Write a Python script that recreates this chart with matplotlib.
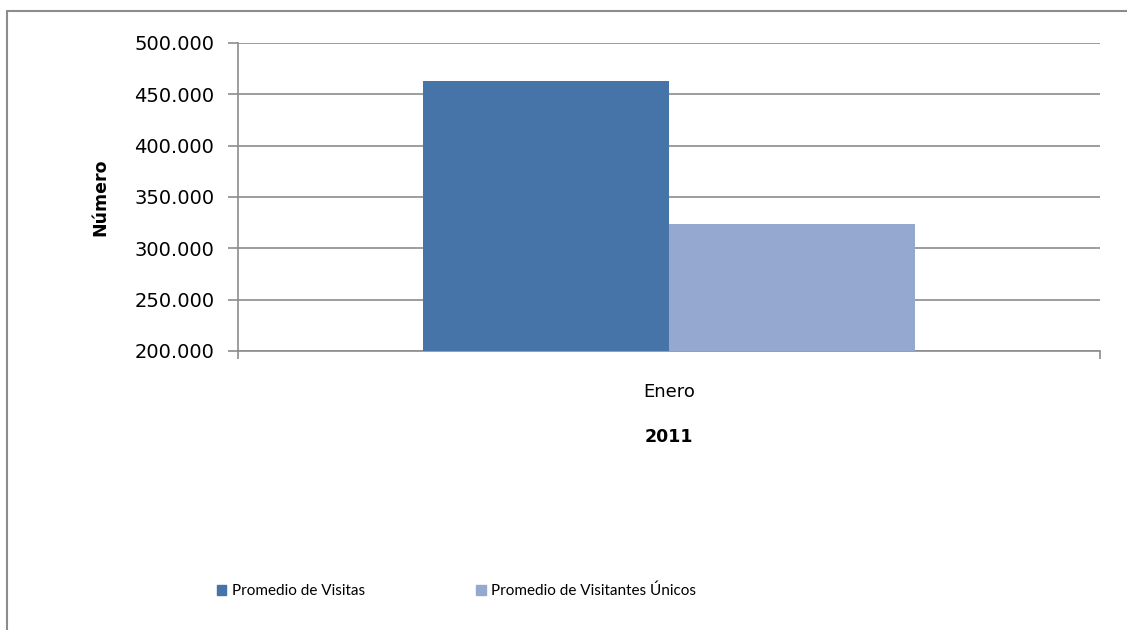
import matplotlib.pyplot as plt
from matplotlib.patches import Rectangle, Patch
import numpy as np

plt.rcParams['font.family'] = ['DejaVu Sans']

categories = ["Enero"]
series_names = ["Promedio de Visitas", "Promedio de Visitantes Únicos"]
visitas = [463000]
visitantes_unicos = [323700]
colors = ["#4674A8", "#95A9D0"]
grid_col = "#8c8c8c"

fig = plt.figure(figsize=(11.27, 6.3), dpi=100)
ax = fig.add_axes([238/1127, 1-351/630, (1100-238)/1127, (351-43)/630])

x = np.arange(len(categories))
w = 0.2854
b1 = ax.bar(x - w/2, visitas, w, color=colors[0], zorder=3)
b2 = ax.bar(x + w/2, visitantes_unicos, w, color=colors[1], zorder=3)

ax.set_xlim(-0.5, 0.5)
ax.set_ylim(200000, 500000)
yt = np.arange(200000, 500001, 50000)
ax.set_yticks(yt)
ax.set_yticklabels([f"{v:,}".replace(",", ".") for v in yt], fontsize=14)
ax.yaxis.grid(True, color=grid_col, linewidth=1.2, zorder=0)
ax.set_axisbelow(True)

ax.set_xticks([-0.5, 0.5], minor=False)
ax.set_xticklabels(["", ""])
ax.set_xticks([0], minor=True)
ax.set_xticklabels(categories, minor=True, fontsize=13)
ax.tick_params(axis='x', which='minor', length=0, pad=23)
ax.tick_params(axis='x', which='major', length=6, color=grid_col, width=1.2)
ax.tick_params(axis='y', length=7, color=grid_col, width=1.2, pad=10)

for s in ['top', 'right']:
    ax.spines[s].set_visible(False)
for s in ['left', 'bottom']:
    ax.spines[s].set_color(grid_col)
    ax.spines[s].set_linewidth(1.2)

fig.text(100/1127, 1-197/630, "Número", rotation=90, fontsize=12.5, fontweight='bold',
         ha='center', va='center')
fig.text(669/1127, 1-437/630, "2011", fontsize=12.5, fontweight='bold',
         ha='center', va='center')

handles = [Patch(color=colors[0]), Patch(color=colors[1])]
fig.legend(handles, series_names, ncol=2, loc='center left',
           bbox_to_anchor=(203/1127, 1-591/630), frameon=False,
           prop={'family': ['Lato', 'DejaVu Sans'], 'size': 11},
           handlelength=0.62, handleheight=0.62, handletextpad=0.35, columnspacing=7.3)

# chart border
fig.patches.append(Rectangle((7/1127, -0.1), 1.2, 1-11/630+0.1, transform=fig.transFigure,
                             fill=False, edgecolor=grid_col, linewidth=1.5))

fig.savefig("out.png", dpi=100)
